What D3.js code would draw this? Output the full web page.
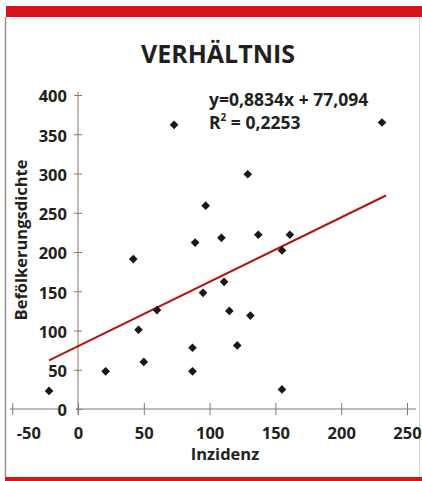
<!DOCTYPE html>
<html>
<head>
<meta charset="utf-8">
<script src="https://cdn.jsdelivr.net/npm/d3@7"></script>
<style>
  body { margin: 0; background: #fff; }
  svg text { font-family: "Open Sans", "Noto Sans", sans-serif; fill: #231f20; }
</style>
</head>
<body>
<div id="chart"></div>
<script>
// data
var inzidenz = [-22, 21, 42, 46, 50, 60, 73, 87, 87, 89, 95, 97, 109, 111, 115, 121, 129, 131, 137, 155, 155, 161, 231];
var dichte   = [23, 48, 191, 101, 60, 126, 362, 78, 48, 212, 148, 259, 218, 162, 125, 81, 299, 119, 222, 202, 25, 222, 365];
var xTicks = [-50, 0, 50, 100, 150, 200, 250];
var yTicks = [0, 50, 100, 150, 200, 250, 300, 350, 400];
// trend line ends as drawn
var trendX = [-22, 234];
var trendY = [62, 272];

var svgWidth = 422, svgHeight = 481;

var svg = d3.select("#chart")
  .append("svg")
  .attr("width", svgWidth)
  .attr("height", svgHeight);

// frame: red bars and thin gray sides
svg.append("rect").attr("x", 6).attr("y", 6).attr("width", 416).attr("height", 11).attr("fill", "#d7141a");
svg.append("rect").attr("x", 5).attr("y", 477).attr("width", 417).attr("height", 4).attr("fill", "#d7141a");
svg.append("line").attr("x1", 5.5).attr("x2", 5.5).attr("y1", 17).attr("y2", 477)
  .attr("stroke", "#9a9090").attr("stroke-width", 1.5);
svg.append("line").attr("x1", 419.5).attr("x2", 419.5).attr("y1", 17).attr("y2", 477)
  .attr("stroke", "#d8d4d4").attr("stroke-width", 1);

// title
svg.append("text")
  .attr("x", 218).attr("y", 63)
  .attr("text-anchor", "middle")
  .attr("font-size", 25).attr("font-weight", "bold")
  .text("VERHÄLTNIS");

var x = d3.scaleLinear().domain([-50, 250]).range([12.2, 407]);
var y = d3.scaleLinear().domain([0, 400]).range([409, 95]);

var axisColor = "#867774";

// x axis
var xAxisG = svg.append("g")
  .attr("transform", `translate(0, ${y(0)})`)
  .call(d3.axisBottom(x).tickValues(xTicks).tickFormat(d => String(d)).tickSize(6).tickPadding(12));
xAxisG.select(".domain").remove();
xAxisG.selectAll(".tick line").attr("y1", -6).attr("y2", 6).attr("stroke", axisColor);
xAxisG.selectAll(".tick text")
  .attr("font-size", 16.5).attr("font-weight", "bold")
  .attr("font-family", "Open Sans").attr("fill", "#231f20");
// first label sits to the right of its tick, inside the frame
xAxisG.selectAll(".tick text").filter(d => d === -50)
  .attr("text-anchor", "start").attr("x", 4);
svg.append("line")
  .attr("x1", 10).attr("x2", 416)
  .attr("y1", y(0)).attr("y2", y(0))
  .attr("stroke", axisColor);

// y axis
var yAxisG = svg.append("g")
  .attr("transform", `translate(${x(0)}, 0)`)
  .call(d3.axisLeft(y).tickValues(yTicks).tickSize(4).tickPadding(7));
yAxisG.select(".domain").remove();
yAxisG.selectAll(".tick line").attr("x1", -4).attr("x2", 4).attr("stroke", axisColor);
yAxisG.selectAll(".tick text")
  .attr("font-size", 16.5).attr("font-weight", "bold")
  .attr("font-family", "Open Sans").attr("fill", "#231f20")
  .attr("dy", "0.42em");
// white box behind the "0" label breaks the x axis line
yAxisG.selectAll(".tick").filter(d => d === 0)
  .insert("rect", "text")
  .attr("x", -20).attr("y", -8).attr("width", 18).attr("height", 16)
  .attr("fill", "#fff");
svg.append("line")
  .attr("x1", x(0)).attr("x2", x(0))
  .attr("y1", y(400) - 3).attr("y2", y(0) + 6)
  .attr("stroke", axisColor);

// axis titles
svg.append("text")
  .attr("x", 225).attr("y", 460)
  .attr("text-anchor", "middle")
  .attr("font-size", 16.5).attr("font-weight", "bold")
  .text("Inzidenz");

svg.append("text")
  .attr("transform", "rotate(-90)")
  .attr("x", -240).attr("y", 27)
  .attr("text-anchor", "middle")
  .attr("font-size", 16.5).attr("font-weight", "bold")
  .text("Befölkerungsdichte");

// trend line
svg.append("line")
  .attr("x1", x(trendX[0])).attr("y1", y(trendY[0]))
  .attr("x2", x(trendX[1])).attr("y2", y(trendY[1]))
  .attr("stroke", "#b3140f").attr("stroke-width", 2);

// points
var points = inzidenz.map((v, i) => ({ x: v, y: dichte[i] }));
svg.selectAll(".pt")
  .data(points)
  .enter()
  .append("path")
  .attr("class", "pt")
  .attr("d", d3.symbol().type(d3.symbolDiamond2).size(48))
  .attr("transform", d => `translate(${x(d.x)}, ${y(d.y)})`)
  .attr("fill", "#1a1717");

// equation
svg.append("text")
  .attr("x", 209).attr("y", 106)
  .attr("font-size", 17.5).attr("font-weight", "bold")
  .text("y=0,8834x + 77,094");

var r2 = svg.append("text")
  .attr("x", 209).attr("y", 129)
  .attr("font-size", 17.5).attr("font-weight", "bold");
r2.append("tspan").text("R");
r2.append("tspan").attr("dy", -8).attr("font-size", 10).text("2");
r2.append("tspan").attr("dy", 8).text(" = 0,2253");
</script>
</body>
</html>
